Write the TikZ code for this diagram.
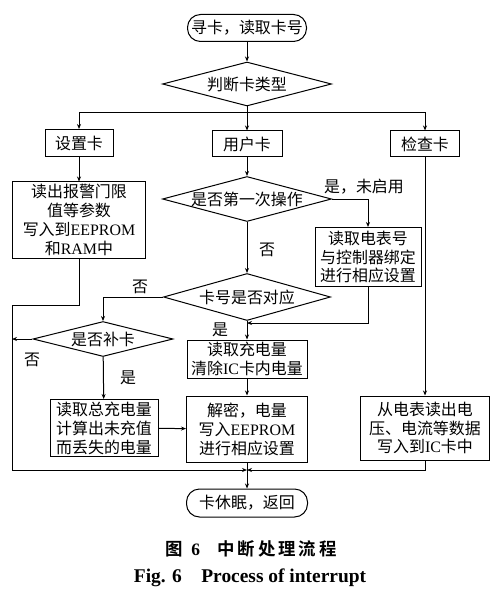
\documentclass[tikz,border=0pt]{standalone}
\usepackage{fontspec}
\setmainfont{Noto Sans CJK SC}[BoldFont={Noto Sans CJK SC Bold}]
\newfontfamily\lat{Liberation Serif}
\usetikzlibrary{shapes.geometric,arrows.meta}
\begin{document}
\begin{tikzpicture}[x=1bp,y=-1bp,line width=1bp,
  txt/.style={font=\fontsize{16}{19}\selectfont},
  box/.style={draw,rectangle,align=center,inner sep=1bp,txt},
  dec/.style={draw,diamond,inner sep=0pt,txt},
  term/.style={draw,rectangle,rounded corners=13bp,inner sep=1bp,txt,minimum height=27bp},
  arr/.style={-{Stealth[length=5bp,width=4bp]}},
  lab/.style={txt,inner sep=0pt}]
\useasboundingbox (0,0) rectangle (503,597);
\node[term,minimum width=119bp] (start) at (247,28) {寻卡，读取卡号};
\node[dec,minimum width=169bp,minimum height=44bp,aspect=3.8] (d1) at (247,84) {判断卡类型};
\node[box,minimum width=68bp,minimum height=27bp] (set) at (79,143) {设置卡};
\node[box,minimum width=70bp,minimum height=26bp] (user) at (247,144) {用户卡};
\node[box,minimum width=69bp,minimum height=26bp] (check) at (425,144) {检查卡};
\node[box,minimum width=133bp,minimum height=76bp] (param) at (79,220) {读出报警门限\\值等参数\\写入到{\lat EEPROM}\\和{\lat RAM}中};
\node[dec,minimum width=169bp,minimum height=45bp,aspect=3.76] (d2) at (247,199) {是否第一次操作};
\node[box,minimum width=106bp,minimum height=59bp] (meter) at (368,257) {读取电表号\\与控制器绑定\\进行相应设置};
\node[dec,minimum width=167bp,minimum height=47bp,aspect=3.6] (d3) at (247,297) {卡号是否对应};
\node[dec,minimum width=140bp,minimum height=35bp,aspect=4] (d4) at (103,339) {是否补卡};
\node[box,minimum width=120bp,minimum height=38bp] (charge) at (247,359) {读取充电量\\清除{\lat IC}卡内电量};
\node[box,minimum width=108bp,minimum height=57bp] (total) at (104,428) {读取总充电量\\计算出未充值\\而丢失的电量};
\node[box,minimum width=121bp,minimum height=66bp] (decr) at (247,429) {解密，电量\\写入{\lat EEPROM}\\进行相应设置};
\node[box,minimum width=129bp,minimum height=64bp] (readv) at (425,428) {从电表读出电\\压、电流等数据\\写入到{\lat IC}卡中};
\node[term,minimum width=121bp,minimum height=28bp] (end) at (247,503) {卡休眠，返回};
% labels
\node[lab] (l1) at (364,187) {是，未启用};
\node[lab] (l2) at (267,250) {否};
\node[lab] (l3) at (140,287) {否};
\node[lab] (l4) at (220,330) {是};
\node[lab] (l5) at (32,360) {否};
\node[lab] (l6) at (128,378) {是};
% junction coordinates
\coordinate (j1) at (247,113);
\coordinate (j2) at (247,323);
\coordinate (j3) at (247,470);
\coordinate (j4) at (12,305);
% connectors
\draw[arr] (start) -- (d1);
\draw (d1.south) -- (j1);
\draw[arr] (j1) -| (set.north);
\draw[arr] (j1) -- (user.north);
\draw[arr] (j1) -| (check.north);
\draw[arr] (set) -- (param);
\draw[arr] (user) -- (d2);
\draw[arr] (d2.east) -| (meter.north);
\draw[arr] (d2) -- (d3);
\draw[arr] (meter.south) |- (j2);
\draw[arr] (d3) -- (charge);
\draw[arr] (d3.west) -| (d4.north);
\draw[arr] (d4.west) -- (d4.west -| j4);
\draw[arr] (param.south) |- (j4) |- (j3);
\draw[arr] (d4) -- (total);
\draw[arr] (charge) -- (decr);
\draw[arr] (total) -- (decr);
\draw[arr] (check) -- (readv);
\draw[arr] (readv.south) |- (j3);
\draw[arr] (decr) -- (end);
% caption
\node[inner sep=0pt,font=\fontsize{17.5}{20}\selectfont\bfseries] (cap1) at (251,549) {图\enspace{\lat 6}\quad 中\,断\,处\,理\,流\,程};
\node[inner sep=0pt,font=\fontsize{19.5}{22}\selectfont\bfseries\lat] (cap2) at (250,578) {Fig. 6\quad Process of interrupt};
\end{tikzpicture}
\end{document}
